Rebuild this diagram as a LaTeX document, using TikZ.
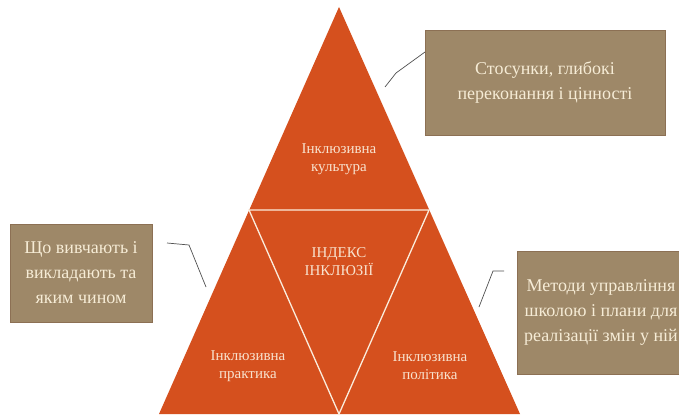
\documentclass[tikz,border=0pt]{standalone}
\usepackage{fontspec}
\setmainfont{Liberation Serif}
\definecolor{pyr}{RGB}{213,80,30}
\definecolor{boxfill}{RGB}{158,136,104}
\definecolor{boxedge}{RGB}{140,112,84}
\definecolor{boxtext}{RGB}{246,236,214}
\definecolor{pyrtext}{RGB}{248,226,206}
\definecolor{sep}{RGB}{250,236,220}
\definecolor{conn}{RGB}{80,80,80}
\tikzset{
  infobox/.style={draw=boxedge, line width=0.8pt, fill=boxfill, text=boxtext, align=center,
    inner sep=0pt, font=\fontsize{18}{25}\selectfont},
  pyrlabel/.style={text=pyrtext, align=center, font=\fontsize{15}{18}\selectfont},
  connline/.style={draw=conn, line width=0.7pt},
  sepline/.style={draw=sep, line width=1.3pt}
}
\begin{document}
\begin{tikzpicture}[x=1pt,y=-1pt]
\useasboundingbox (0,0) rectangle (679,417);
\clip (0,0) rectangle (679,417);
\fill[white] (0,0) rectangle (679,417);
% pyramid
\coordinate (apex) at (339,7);
\coordinate (bl) at (159,414);
\coordinate (br) at (520,414);
\coordinate (ml) at (249,210);
\coordinate (mr) at (429,210);
\coordinate (mb) at (339,414);
\fill[pyr] (apex) -- (bl) -- (br) -- cycle;
\draw[sepline] (ml) -- (mr) -- (mb) -- cycle;
% labels
\node[pyrlabel] (cult) at (339,159) {Інклюзивна\\культура};
\node[pyrlabel] (idx) at (339,262) {ІНДЕКС\\ІНКЛЮЗІЇ};
\node[pyrlabel] (prak) at (248,366) {Інклюзивна\\практика};
\node[pyrlabel] (polit) at (430,366) {Інклюзивна\\політика};
% boxes
\node[infobox, minimum width=240, minimum height=105] (tbox) at (545,82.5)
  {Стосунки, глибокі\\переконання і цінності};
\node[infobox, minimum width=142, minimum height=98] (lbox) at (81,273)
  {Що вивчають і\\викладають та\\яким чином};
\node[infobox, minimum width=168, minimum height=123] (rbox) at (601,312.5)
  {Методи управління\\школою і плани для\\реалізації змін у ній};
% connectors
\coordinate (ta) at (425,52);
\coordinate (tb) at (396,73);
\coordinate (tc) at (385,87);
\draw[connline] (ta) -- (tb) -- (tc);
\coordinate (la) at (167,243);
\coordinate (lb) at (189,245);
\coordinate (lc) at (206,287);
\draw[connline] (la) -- (lb) -- (lc);
\coordinate (ra) at (504,271);
\coordinate (rb) at (493,271);
\coordinate (rc) at (479,307);
\draw[connline] (ra) -- (rb) -- (rc);
\end{tikzpicture}
\end{document}
